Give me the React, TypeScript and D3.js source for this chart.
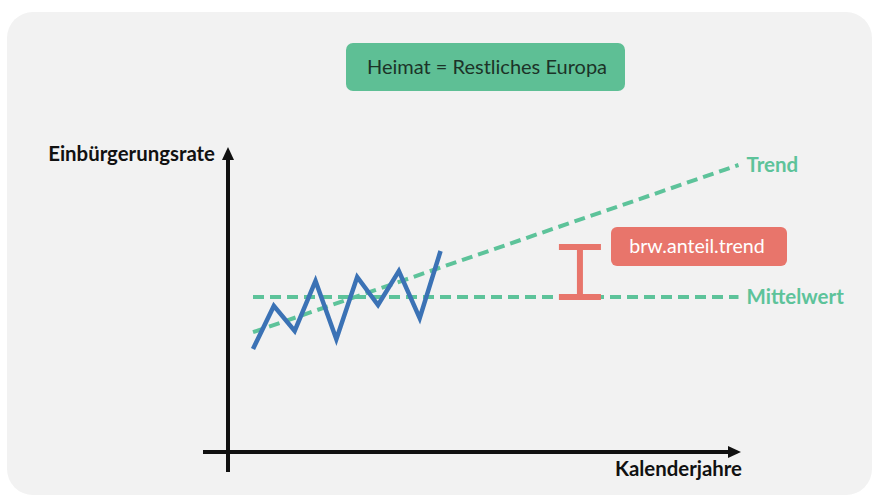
import React from 'react';
import * as d3 from 'd3';

// schematic series (years 1..10), rate units 0..100
const years = [1, 2, 3, 4, 5, 6, 7, 8, 9, 10];
const rates = [33.8, 47.9, 39.7, 56.1, 37.0, 57.4, 48.2, 59.3, 43.9, 65.9];

const meanValue = 50.8;
const lineStart = 1;
const lineEnd = 24.3;
const trendStart = 39.3;
const trendEnd = 94.1;

const gapYear = 16.69;
const gapTop = 67.2;

const titleText = 'Heimat = Restliches Europa';
const yLabel = 'Einbürgerungsrate';
const xLabel = 'Kalenderjahre';
const trendLabel = 'Trend';
const meanLabel = 'Mittelwert';
const gapLabel = 'brw.anteil.trend';

const W = 878;
const H = 497;

const GREEN = '#5dc39a';
const BLUE = '#3b72b5';
const RED = '#e8756b';
const FONT = 'Lato, "Open Sans", sans-serif';

const App: React.FC = () => {
  const x = d3.scaleLinear().domain([-0.2, 24.3]).range([228, 738.5]);
  const y = d3.scaleLinear().domain([0, 100]).range([452, 147]);

  const line = d3
    .line<[number, number]>()
    .x((d) => x(d[0]))
    .y((d) => y(d[1]));

  const series: [number, number][] = years.map((t, i) => [t, rates[i]]);
  const meanPts: [number, number][] = [
    [lineStart, meanValue],
    [lineEnd, meanValue],
  ];
  const trendPts: [number, number][] = [
    [lineStart, trendStart],
    [lineEnd, trendEnd],
  ];

  const x0 = x(-0.2);
  const yBase = y(0);
  const yTop = y(100);
  const xTip = 741;

  const gx = x(gapYear);

  return (
    <div style={{ position: 'absolute', left: 0, top: 0 }}>
      <svg width={W} height={H} style={{ display: 'block' }}>
        <rect x={0} y={0} width={W} height={H} fill="#ffffff" />
        <rect x={7} y={12} width={865} height={483} rx={26} fill="#f2f2f2" />

        {/* title box */}
        <rect x={346} y={43} width={279} height={48} rx={7} fill="#5ebf95" />
        <text
          x={487}
          y={73.5}
          textAnchor="middle"
          fontFamily={FONT}
          fontSize={20}
          fill="#1c3328"
        >
          {titleText}
        </text>

        {/* axes */}
        <line x1={x0} y1={472} x2={x0} y2={yTop + 10} stroke="#111" strokeWidth={4} />
        <path
          d={`M${x0},${yTop} L${x0 + 6},${yTop + 13} L${x0 - 6},${yTop + 13} Z`}
          fill="#111"
        />
        <line x1={203} y1={yBase} x2={xTip - 10} y2={yBase} stroke="#111" strokeWidth={4} />
        <path
          d={`M${xTip},${yBase} L${xTip - 13},${yBase - 6} L${xTip - 13},${yBase + 6} Z`}
          fill="#111"
        />

        <text
          x={215}
          y={161}
          textAnchor="end"
          fontFamily={FONT}
          fontWeight="bold"
          fontSize={20.4}
          fill="#111"
        >
          {yLabel}
        </text>
        <text
          x={742}
          y={476}
          textAnchor="end"
          fontFamily={FONT}
          fontWeight="bold"
          fontSize={20.4}
          fill="#111"
        >
          {xLabel}
        </text>

        {/* mean and trend */}
        <path
          d={line(meanPts)!}
          fill="none"
          stroke={GREEN}
          strokeWidth={4}
          strokeDasharray="11,6"
        />
        <path
          d={line(trendPts)!}
          fill="none"
          stroke={GREEN}
          strokeWidth={4}
          strokeDasharray="11,6"
        />

        {/* series */}
        <path d={line(series)!} fill="none" stroke={BLUE} strokeWidth={4.5} />

        <text
          x={x(lineEnd) + 8}
          y={y(trendEnd) + 7}
          fontFamily={FONT}
          fontWeight="bold"
          fontSize={20.5}
          fill={GREEN}
        >
          {trendLabel}
        </text>
        <text
          x={x(lineEnd) + 8}
          y={y(meanValue) + 7}
          fontFamily={FONT}
          fontWeight="bold"
          fontSize={20.5}
          fill={GREEN}
        >
          {meanLabel}
        </text>

        {/* gap marker */}
        <g stroke={RED} strokeWidth={6}>
          <line x1={gx} y1={y(gapTop)} x2={gx} y2={y(meanValue)} />
          <line x1={gx - 21} y1={y(gapTop)} x2={gx + 21} y2={y(gapTop)} />
          <line x1={gx - 21} y1={y(meanValue)} x2={gx + 21} y2={y(meanValue)} />
        </g>
        <rect x={611} y={227} width={176} height={39} rx={6} fill={RED} />
        <text
          x={697}
          y={253}
          textAnchor="middle"
          fontFamily={FONT}
          fontSize={19.6}
          fill="#ffffff"
        >
          {gapLabel}
        </text>
      </svg>
    </div>
  );
};

export default App;
